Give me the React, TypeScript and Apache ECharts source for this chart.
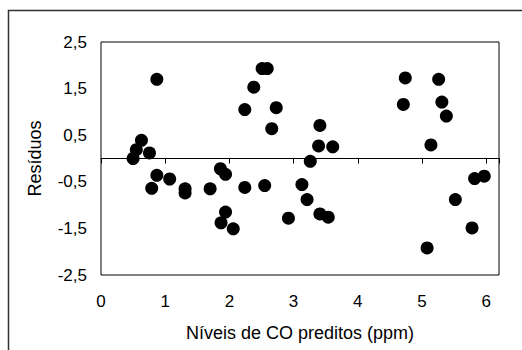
import React, { useEffect, useRef } from "react";
import * as echarts from "echarts";

const xValues = [0.5, 0.55, 0.63, 0.755, 0.87, 0.79, 0.87, 1.07, 1.31, 1.31, 1.7, 1.86, 1.94, 1.94, 1.87, 2.06, 2.24, 2.24, 2.38, 2.51, 2.59, 2.55, 2.73, 2.66, 2.92, 3.13, 3.21, 3.26, 3.39, 3.41, 3.41, 3.54, 3.61, 4.71, 4.74, 5.08, 5.14, 5.26, 5.31, 5.38, 5.52, 5.78, 5.82, 5.97];
const residuals = [0.0, 0.19, 0.39, 0.12, 1.7, -0.64, -0.36, -0.44, -0.65, -0.74, -0.65, -0.22, -0.34, -1.15, -1.38, -1.51, -0.62, 1.05, 1.53, 1.93, 1.93, -0.58, 1.09, 0.64, -1.28, -0.56, -0.88, -0.06, 0.27, 0.71, -1.19, -1.26, 0.25, 1.16, 1.73, -1.92, 0.29, 1.7, 1.21, 0.91, -0.88, -1.49, -0.43, -0.38];
const xTickLabels = ["0", "1", "2", "3", "4", "5", "6"];
const yTickLabels = ["-2,5", "-1,5", "-0,5", "0,5", "1,5", "2,5"];
const xName = "Níveis de CO preditos (ppm)";
const yName = "Resíduos";

const FONT = "Liberation Sans, Arial, sans-serif";

export default function App() {
  const ref = useRef<HTMLDivElement>(null);
  useEffect(() => {
    if (!ref.current) return;
    const chart = echarts.init(ref.current, null, { renderer: "svg" });
    const data = xValues.map((x, i) => [x, residuals[i]]);
    chart.setOption({
      animation: false,
      backgroundColor: "#fff",
      textStyle: { fontFamily: FONT },
      graphic: [
        {
          type: "rect",
          shape: { x: 8.5, y: 10.5, width: 600, height: 400 },
          style: { fill: "none", stroke: "#333", lineWidth: 1.5 },
          silent: true,
        },
      ],
      grid: {
        left: 101,
        top: 42,
        width: 398,
        height: 233,
        show: true,
        borderColor: "#000",
        borderWidth: 1,
        backgroundColor: "transparent",
      },
      xAxis: [
        {
          type: "value",
          position: "bottom",
          min: 0,
          max: 6.2,
          interval: 1,
          name: xName,
          nameLocation: "middle",
          nameGap: 49,
          nameTextStyle: { fontSize: 18, color: "#000", fontFamily: FONT },
          axisLine: { show: false, onZero: false },
          axisTick: { show: false },
          splitLine: { show: false },
          axisLabel: {
            fontSize: 17,
            color: "#000",
            margin: 18,
            fontFamily: FONT,
            showMaxLabel: false,
            formatter: (v: number) => {
              const i = Math.round(v);
              return Math.abs(v - i) < 1e-6 && i >= 0 && i < xTickLabels.length ? xTickLabels[i] : "";
            },
          },
        },
        {
          type: "value",
          position: "bottom",
          min: 0,
          max: 6.2,
          interval: 1,
          axisLine: { show: true, onZero: true, lineStyle: { color: "#000", width: 1 } },
          axisTick: { show: true, length: 5, inside: false, lineStyle: { color: "#000", width: 1 } },
          axisLabel: { show: false },
          splitLine: { show: false },
        },
      ],
      yAxis: {
        type: "value",
        min: -2.5,
        max: 2.5,
        interval: 0.5,
        name: yName,
        nameLocation: "middle",
        nameGap: 57,
        nameTextStyle: { fontSize: 18, color: "#000", fontFamily: FONT },
        axisLine: { show: false, onZero: false },
        axisTick: { show: false },
        splitLine: { show: false },
        axisLabel: {
          fontSize: 17,
          color: "#000",
          margin: 14,
          fontFamily: FONT,
          formatter: (v: number) => {
            const k = Math.round((v + 2.5) * 2);
            if (k % 2 !== 0) return "";
            const idx = k / 2;
            return idx >= 0 && idx < yTickLabels.length ? yTickLabels[idx] : "";
          },
        },
      },
      series: [
        {
          type: "scatter",
          xAxisIndex: 0,
          yAxisIndex: 0,
          data,
          symbol: "circle",
          symbolSize: 13,
          itemStyle: { color: "#000", opacity: 1 },
        },
      ],
    });
    return () => chart.dispose();
  }, []);
  return (
    <div
      ref={ref}
      style={{ position: "fixed", left: 0, top: 0, width: 522, height: 350, background: "#fff" }}
    />
  );
}
